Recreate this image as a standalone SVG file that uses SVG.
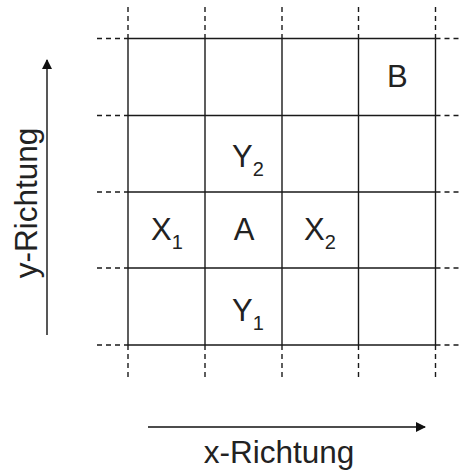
<svg xmlns="http://www.w3.org/2000/svg" width="459" height="470" viewBox="0 0 459 470">
<defs>
<style>
.g{stroke:#1a1a1a;stroke-width:1.4;fill:none}
.d{stroke:#1a1a1a;stroke-width:1.4;stroke-dasharray:5,4;fill:none}
.t{font-family:"Liberation Sans",Arial,sans-serif;font-size:31px;fill:#222}
.s{font-size:20px}
.L{font-size:31.5px}
.a{stroke:#111;stroke-width:1.4;fill:none}
</style>
<marker id="ah" markerWidth="10" markerHeight="10" refX="9" refY="5" orient="auto" markerUnits="userSpaceOnUse">
<path d="M0,0 L10,5 L0,10 Z" fill="#111"/>
</marker>
</defs>
<g id="connectors">
<g id="grid">
<path class="g" d="M128,38.5H435.5M128,115.5H435.5M128,192H435.5M128,268H435.5M128,345H435.5"/>
<path class="g" d="M128,38.5V345M205,38.5V345M282,38.5V345M358.5,38.5V345M435.5,38.5V345"/>
<path class="d" d="M97,38.5H128M97,115.5H128M97,192H128M97,268H128M97,345H128"/>
<path class="d" d="M435.5,38.5H462M435.5,115.5H462M435.5,192H462M435.5,268H462M435.5,345H462"/>
<path class="d" d="M128,7V38.5M205,7V38.5M282,7V38.5M358.5,7V38.5M435.5,7V38.5"/>
<path class="d" d="M128,345V378M205,345V378M282,345V378M358.5,345V378M435.5,345V378"/>
</g>
<line id="y-arrow" class="a" x1="47" y1="335" x2="47" y2="60" marker-end="url(#ah)"/>
<line id="x-arrow" class="a" x1="148" y1="427" x2="425" y2="427" marker-end="url(#ah)"/>
</g>
<g id="node-B"><text class="t" x="387" y="87">B</text></g>
<g id="node-A"><text class="t" x="244" y="240" text-anchor="middle">A</text></g>
<g id="node-X1"><text class="t" x="151" y="240">X<tspan class="s" dy="9">1</tspan></text></g>
<g id="node-X2"><text class="t" x="304" y="240">X<tspan class="s" dy="9">2</tspan></text></g>
<g id="node-Y2"><text class="t" x="232" y="167">Y<tspan class="s" dy="9">2</tspan></text></g>
<g id="node-Y1"><text class="t" x="232" y="321">Y<tspan class="s" dy="9">1</tspan></text></g>
<g id="label-y"><text class="t L" transform="translate(37,203) rotate(-90)" text-anchor="middle">y-Richtung</text></g>
<g id="label-x"><text class="t L" x="279" y="463" text-anchor="middle">x-Richtung</text></g>
</svg>
